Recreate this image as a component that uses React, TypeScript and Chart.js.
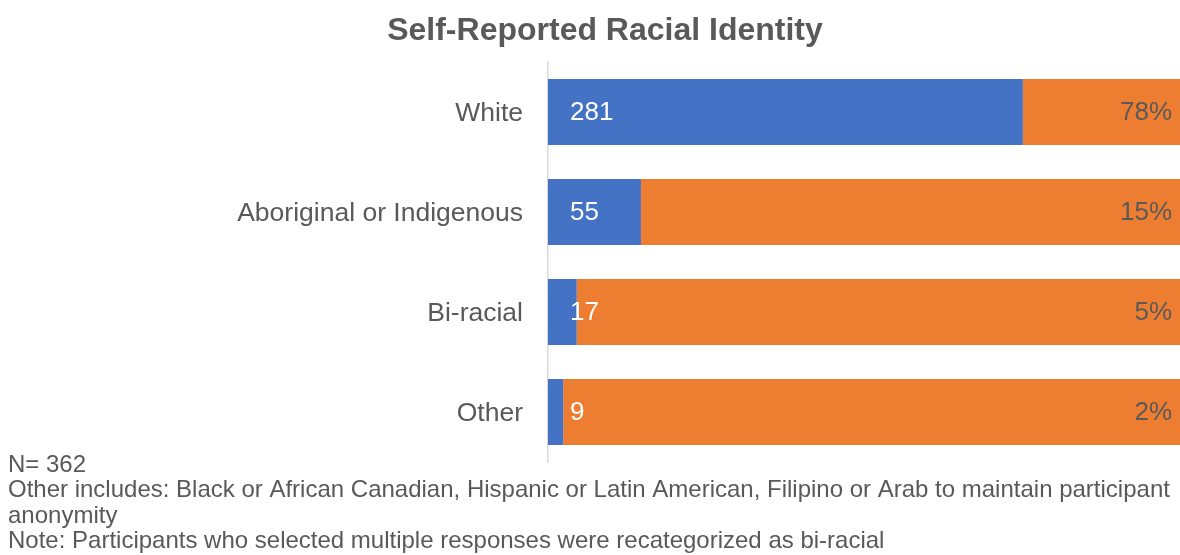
import React, { useEffect, useRef } from "react";
import { Chart, registerables } from "chart.js";

Chart.register(...registerables);

const CATEGORIES = ["White", "Aboriginal or Indigenous", "Bi-racial", "Other"];
const COUNTS = [281, 55, 17, 9];
const REMAINDER = [93, 319, 357, 365];
const PERCENT_LABELS = ["78%", "15%", "5%", "2%"];
const AXIS_MAX = 374;
const TITLE = "Self-Reported Racial Identity";
const FOOTNOTES = [
  "N= 362",
  "Other includes: Black or African Canadian, Hispanic or Latin American, Filipino or Arab to maintain participant",
  "anonymity",
  "Note: Participants who selected multiple responses were recategorized as bi-racial",
];

const FONT = "'Liberation Sans', Arial, sans-serif";
const TEXT = "#595959";

export default function App() {
  const ref = useRef<HTMLCanvasElement | null>(null);

  useEffect(() => {
    if (!ref.current) return;
    const labelsPlugin = {
      id: "customText",
      afterDraw(chart: any) {
        const ctx = chart.ctx;
        ctx.save();
        // title
        ctx.fillStyle = TEXT;
        ctx.font = `bold 32px ${FONT}`;
        ctx.textAlign = "center";
        ctx.textBaseline = "middle";
        ctx.fillText(TITLE, 605, 31);

        // data labels
        ctx.font = `26px ${FONT}`;
        const m0 = chart.getDatasetMeta(0);
        const m1 = chart.getDatasetMeta(1);
        m0.data.forEach((bar: any, i: number) => {
          const base = bar.base;
          ctx.fillStyle = "#ffffff";
          ctx.textAlign = "left";
          ctx.fillText(String(COUNTS[i]), base + 22, bar.y + 1);
          const ob = m1.data[i];
          ctx.fillStyle = TEXT;
          ctx.textAlign = "right";
          ctx.fillText(PERCENT_LABELS[i], Math.min(ob.x, chart.chartArea.right) - 8, ob.y + 1);
        });

        // footnotes
        ctx.font = `24px ${FONT}`;
        ctx.textAlign = "left";
        ctx.textBaseline = "alphabetic";
        ctx.fillStyle = TEXT;
        FOOTNOTES.forEach((t, i) => {
          ctx.fillText(t, 8, 472 + i * 25.4);
        });
        ctx.restore();
      },
    };

    const chart = new Chart(ref.current, {
      type: "bar",
      data: {
        labels: CATEGORIES,
        datasets: [
          {
            label: "Count",
            data: COUNTS,
            backgroundColor: "#4472C4",
            barPercentage: 0.66,
            categoryPercentage: 1,
          },
          {
            label: "Remainder",
            data: REMAINDER,
            backgroundColor: "#ED7D31",
            barPercentage: 0.66,
            categoryPercentage: 1,
          },
        ],
      },
      options: {
        indexAxis: "y",
        responsive: false,
        animation: false,
        layout: { padding: { left: 0, right: 0, top: 62, bottom: 93 } },
        plugins: {
          legend: { display: false },
          tooltip: { enabled: false },
          title: { display: false },
        },
        scales: {
          x: {
            stacked: true,
            min: 0,
            max: AXIS_MAX,
            display: false,
          },
          y: {
            stacked: true,
            grid: { display: false },
            border: { display: true, color: "#d9d9d9", width: 1.5 },
            ticks: {
              color: TEXT,
              font: { family: FONT, size: 26.5 },
              padding: 17,
              labelOffset: 2,
            },
            afterFit(scale: any) {
              scale.width = 548;
            },
          },
        },
      },
      plugins: [labelsPlugin],
    } as any);
    return () => chart.destroy();
  }, []);

  return (
    <div style={{ position: "absolute", left: 0, top: 0, width: 1180, height: 555, background: "#fff" }}>
      <canvas ref={ref} width={1180} height={555} />
    </div>
  );
}
